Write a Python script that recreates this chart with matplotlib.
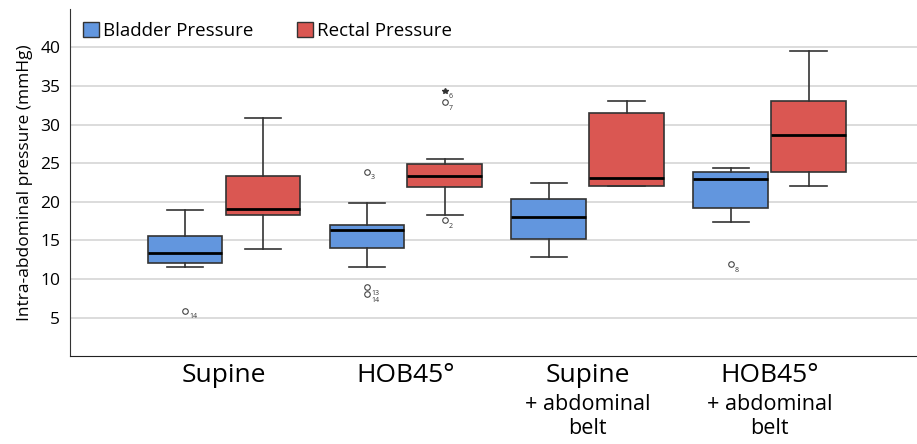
import matplotlib
matplotlib.use('Agg')
from matplotlib import pyplot as plt
from matplotlib.patches import Patch

plt.rcParams['font.family'] = ['Open Sans', 'DejaVu Sans']

# Categorias (posicao no eixo x)
grupos = ['Supine', 'HOB45°', 'Supine', 'HOB45°']
sub_rotulos = ['', '', '+ abdominal\nbelt', '+ abdominal\nbelt']
series = ['Bladder Pressure', 'Rectal Pressure']
yticks = [5, 10, 15, 20, 25, 30, 35, 40]

# Bexiga: bigode inf, Q1, mediana, Q3, bigode sup
bexiga_whislo = [11.5, 11.5, 12.9, 17.4]
bexiga_q1 = [12.1, 14.0, 15.2, 19.2]
bexiga_med = [13.4, 16.4, 18.0, 22.9]
bexiga_q3 = [15.5, 17.0, 20.4, 23.9]
bexiga_whishi = [18.9, 19.9, 22.4, 24.4]
bexiga_outliers = [[5.9], [23.9, 8.9, 8.0], [], [11.9]]
bexiga_outlier_ids = [['14'], ['3', '13', '14'], [], ['8']]

# Reto
reto_whislo = [13.9, 18.3, 22.0, 22.0]
reto_q1 = [18.3, 21.9, 22.0, 23.9]
reto_med = [19.0, 23.4, 23.1, 28.6]
reto_q3 = [23.4, 24.9, 31.5, 33.0]
reto_whishi = [30.8, 25.6, 33.0, 39.6]
reto_outliers = [[], [17.6, 32.9], [], []]
reto_outlier_ids = [[], ['2', '7'], [], []]
reto_extremos = [[], [34.4], [], []]
reto_extremo_ids = [[], ['6'], [], []]

cor_bexiga = '#6296DE'
cor_reto = '#DA5752'

def monta_stats(lo, q1, med, q3, hi, fl):
    return [dict(whislo=a, q1=b, med=c, q3=d, whishi=e, fliers=f)
            for a, b, c, d, e, f in zip(lo, q1, med, q3, hi, fl)]

fig = plt.figure(figsize=(9.17, 4.44), dpi=100)
ax = fig.add_axes([0.0763, 0.198, 0.9237, 0.782])

centros = list(range(1, len(grupos) + 1))
desloc = 0.214
pos_bexiga = [c - desloc for c in centros]
pos_reto = [c + desloc for c in centros]

estilo = dict(widths=0.41, capwidths=0.2, patch_artist=True,
              medianprops=dict(color='black', linewidth=2),
              whiskerprops=dict(color='#333333', linewidth=1.2),
              capprops=dict(color='#333333', linewidth=1.2),
              flierprops=dict(marker='o', markersize=4, markerfacecolor='white',
                              markeredgecolor='#444444', markeredgewidth=0.8))

for stats, pos, cor in [
        (monta_stats(bexiga_whislo, bexiga_q1, bexiga_med, bexiga_q3, bexiga_whishi, bexiga_outliers), pos_bexiga, cor_bexiga),
        (monta_stats(reto_whislo, reto_q1, reto_med, reto_q3, reto_whishi, reto_outliers), pos_reto, cor_reto)]:
    ax.bxp(stats, positions=pos,
           boxprops=dict(facecolor=cor, edgecolor='#333333', linewidth=1.2),
           **estilo)

# valores extremos (estrela)
for p, vals in zip(pos_reto, reto_extremos):
    if vals:
        ax.plot([p] * len(vals), vals, ls='none', marker='*', markersize=4, color='#333333')

# rotulos dos casos
def rotula(posicoes, valores, ids):
    for p, vals, nomes in zip(posicoes, valores, ids):
        for v, n in zip(vals, nomes):
            ax.annotate(n, (p, v), xytext=(3, -4.5), textcoords='offset points',
                        fontsize=5, ha='left', va='center', color='#333333')

rotula(pos_bexiga, bexiga_outliers, bexiga_outlier_ids)
rotula(pos_reto, reto_outliers, reto_outlier_ids)
rotula(pos_reto, reto_extremos, reto_extremo_ids)

ax.set_xlim(0.154, 4.81)
ax.set_ylim(0, 45)
ax.set_yticks(yticks)
ax.yaxis.grid(True, color='#d9d9d9', linewidth=1.3)
ax.set_axisbelow(True)
for s in ['top', 'right']:
    ax.spines[s].set_visible(False)
ax.spines['left'].set_color('#333333')
ax.spines['bottom'].set_color('#222222')
ax.tick_params(axis='y', length=0, pad=7, labelsize=12.5)
ax.set_ylabel('Intra-abdominal pressure (mmHg)', fontsize=12.5, labelpad=5)

ax.set_xticks(centros)
ax.set_xticklabels(grupos, fontsize=19)
ax.tick_params(axis='x', length=0, pad=5)
for c, sub in zip(centros, sub_rotulos):
    if sub:
        ax.annotate(sub, (c, 0), xycoords=('data', 'axes fraction'),
                    xytext=(0, -27), textcoords='offset points',
                    ha='center', va='top', fontsize=15.5, linespacing=1.2)

alcas = [Patch(facecolor=cor_bexiga, edgecolor='#333333'),
         Patch(facecolor=cor_reto, edgecolor='#333333')]
ax.legend(alcas, series, loc='upper left', bbox_to_anchor=(-0.005, 1.01), ncol=2,
          frameon=False, fontsize=13.5, handlelength=0.85, handleheight=0.85,
          handletextpad=0.25, columnspacing=2.3)

fig.savefig('out.png', dpi=100)
